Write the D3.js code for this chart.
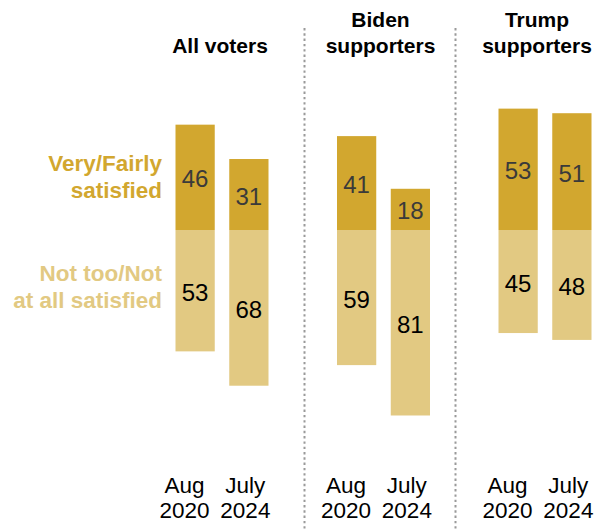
<!DOCTYPE html>
<html>
<head>
<meta charset="utf-8">
<script src="https://cdn.jsdelivr.net/npm/d3@7"></script>
<style>
  html, body { margin: 0; padding: 0; background: #fff; }
  svg { display: block; }
  text { font-family: "Liberation Sans", Arial, sans-serif; }
</style>
</head>
<body>
<svg id="chart" width="608" height="531"></svg>
<script>
// Satisfaction with the choice of presidential candidates
const groups = ["All voters", "Biden supporters", "Trump supporters"];
const groupTitles = [["All voters"], ["Biden", "supporters"], ["Trump", "supporters"]];
const periods = ["Aug 2020", "July 2024"];
const periodLabels = [["Aug", "2020"], ["July", "2024"]];
const satisfied = [[46, 31], [41, 18], [53, 51]];
const notSatisfied = [[53, 68], [59, 81], [45, 48]];
const legendLabels = [["Very/Fairly", "satisfied"], ["Not too/Not", "at all satisfied"]];

const colors = { sat: "#D2A72F", notSat: "#E2C982", divider: "#9a9a9a" };

const svg = d3.select("#chart");

// Horizontal layout: one band per group, two bars per band
const x0 = d3.scaleBand().domain(groups).range([141.25, 625.75]).padding(0);
const x1 = d3.scaleBand().domain(periods).range([0, 93]).paddingInner(0.27).paddingOuter(0);
const barLeft = (g, p) => x0(g) + x0.bandwidth() / 2 - 46.5 + x1(p);

// Vertical: satisfied stacks upward from the baseline, not satisfied downward
const baseline = 230, k = 2.29;
const y = d3.scaleLinear().domain([60, -90]).range([baseline - 60 * k, baseline + 90 * k]);

// Flatten into bar records
const bars = [];
groups.forEach((g, gi) => {
  periods.forEach((p, pi) => {
    bars.push({ g, p, kind: "sat", v: satisfied[gi][pi], y0: y(satisfied[gi][pi]), y1: y(0) });
    bars.push({ g, p, kind: "notSat", v: notSatisfied[gi][pi], y0: y(0), y1: y(-notSatisfied[gi][pi]) });
  });
});

svg.append("g").selectAll("rect").data(bars).join("rect")
  .attr("x", d => barLeft(d.g, d.p))
  .attr("width", x1.bandwidth())
  .attr("y", d => d.y0)
  .attr("height", d => d.y1 - d.y0)
  .attr("fill", d => colors[d.kind]);

svg.append("g").selectAll("text").data(bars).join("text")
  .attr("x", d => barLeft(d.g, d.p) + x1.bandwidth() / 2)
  .attr("y", d => (d.y0 + d.y1) / 2 + 10)
  .attr("text-anchor", "middle")
  .attr("font-size", 24)
  .attr("fill", d => d.kind === "sat" ? "#3a3a3a" : "#000")
  .text(d => d.v);

// Dotted dividers between groups
const dividerX = [304.5, 455.5];
svg.append("g").selectAll("line").data(dividerX).join("line")
  .attr("x1", d => d).attr("x2", d => d)
  .attr("y1", 28).attr("y2", 531)
  .attr("stroke", colors.divider)
  .attr("stroke-width", 2)
  .attr("stroke-dasharray", "2.4,2.9");

// Group titles
const titleX = [220, 380.5, 537];
const titles = svg.append("g").selectAll("text").data(groupTitles).join("text")
  .attr("text-anchor", "middle")
  .attr("font-size", 21)
  .attr("font-weight", "bold")
  .attr("fill", "#000");
titles.each(function (lines, i) {
  const t = d3.select(this);
  const firstY = 53 - (lines.length - 1) * 26;
  lines.forEach((ln, j) => {
    t.append("tspan").attr("x", titleX[i]).attr("y", firstY + j * 26).text(ln);
  });
});

// Legend labels to the left of the first group
const legendY = [171, 281];
const legendColors = [colors.sat, colors.notSat];
legendLabels.forEach((lines, i) => {
  const t = svg.append("text")
    .attr("text-anchor", "end")
    .attr("font-size", 22.5)
    .attr("font-weight", "bold")
    .attr("fill", legendColors[i]);
  lines.forEach((ln, j) => {
    t.append("tspan").attr("x", 162).attr("y", legendY[i] + j * 27).text(ln);
  });
});

// Period labels under each bar
const periodShift = [-10.5, -3.5];
const axisG = svg.append("g");
groups.forEach(g => {
  periods.forEach((p, pi) => {
    const cx = barLeft(g, p) + x1.bandwidth() / 2 + periodShift[pi];
    const t = axisG.append("text")
      .attr("text-anchor", "middle")
      .attr("font-size", 22.5)
      .attr("fill", "#000");
    periodLabels[pi].forEach((ln, j) => {
      t.append("tspan").attr("x", cx).attr("y", 493 + j * 24.5).text(ln);
    });
  });
});
</script>
</body>
</html>
